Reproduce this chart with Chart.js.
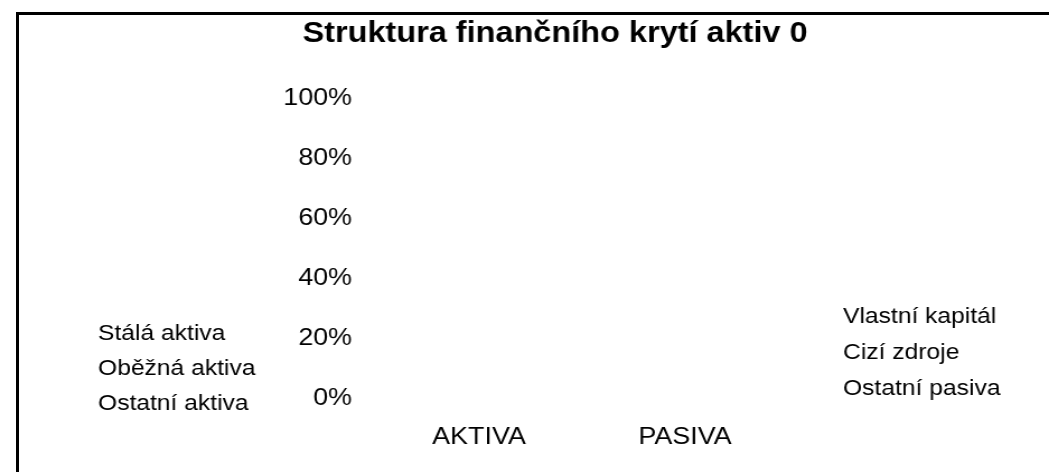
<!DOCTYPE html>
<html>
<head>
<meta charset="utf-8">
<script src="https://cdn.jsdelivr.net/npm/chart.js@4/dist/chart.umd.min.js"></script>
<style>
  html, body { margin: 0; padding: 0; background: #fff; }
  #wrap { position: relative; width: 1049px; height: 472px; overflow: hidden; }
  #frame {
    position: absolute; left: 16px; top: 12px; width: 1100px; height: 457px;
    border-top: 3px solid #000; border-left: 3px solid #000;
    border-bottom: 1px solid #ececec;
  }
  #chart { position: absolute; left: 0; top: 0; }
</style>
</head>
<body>
<div id="wrap">
  <div id="frame"></div>
  <!-- drawn narrower and widened by CSS to get the wide lettering -->
  <canvas id="chart" width="937" height="472" style="width:1049px;height:472px"></canvas>
</div>
<script>
const categories = ['AKTIVA', 'PASIVA'];

// aktiva sit on the first column, pasiva on the second (all empty here)
const aktivaLabels = ['Stálá aktiva', 'Oběžná aktiva', 'Ostatní aktiva'];
const aktivaValues = [0, 0, 0];
const pasivaLabels = ['Vlastní kapitál', 'Cizí zdroje', 'Ostatní pasiva'];
const pasivaValues = [0, 0, 0];

const yTicks = [0, 20, 40, 60, 80, 100];

const aktivaColors = ['#9999ff', '#993366', '#ffffcc'];
const pasivaColors = ['#ccffff', '#660066', '#ff8080'];

const datasets = [];
aktivaLabels.forEach((label, i) => {
    datasets.push({ label: label, group: 'left', data: [aktivaValues[i], null], backgroundColor: aktivaColors[i] });
});
pasivaLabels.forEach((label, i) => {
    datasets.push({ label: label, group: 'right', data: [null, pasivaValues[i]], backgroundColor: pasivaColors[i] });
});

const FONT = 'Liberation Sans, Arial, sans-serif';
const canvas = document.getElementById('chart');
const SX = 1049 / canvas.width;      // horizontal stretch of the canvas
const px = v => v / SX;              // page px -> canvas px

// plain text legends on both sides of the plot
const sideLegends = {
    id: 'sideLegends',
    afterLayout(chart) {
        // centre the title over the page rather than the padded box
        const t = chart.titleBlock;
        const shift = px(555) - (t.left + t.right) / 2;
        t.left += shift;
        t.right += shift;
    },
    afterDraw(chart) {
        const ctx = chart.ctx;
        const area = chart.chartArea;
        ctx.save();
        ctx.font = '22px ' + FONT;
        ctx.fillStyle = '#000';
        ctx.textAlign = 'left';
        ctx.textBaseline = 'middle';
        const left = chart.data.datasets.filter(d => d.group === 'left');
        const right = chart.data.datasets.filter(d => d.group === 'right');
        left.forEach((d, i) => {
            ctx.fillText(d.label, px(98), area.bottom - 64.5 + i * 35);
        });
        right.forEach((d, i) => {
            ctx.fillText(d.label, px(843), area.bottom - 81.5 + i * 36);
        });
        ctx.restore();
    }
};

new Chart(canvas, {
    type: 'bar',
    data: { labels: categories, datasets: datasets },
    options: {
        responsive: false,
        animation: false,
        layout: { padding: { left: 0, right: canvas.width - px(788), top: 0, bottom: 0 } },
        plugins: {
            legend: { display: false },
            tooltip: { enabled: false },
            title: {
                display: true,
                text: 'Struktura finančního krytí aktiv 0',
                color: '#000',
                font: { family: FONT, size: 29, weight: 'bold' },
                padding: { top: 17, bottom: 46.7 }
            }
        },
        scales: {
            x: {
                stacked: true,
                grid: { display: false, drawTicks: false },
                border: { display: false },
                ticks: { color: '#000', font: { family: FONT, size: 24 }, padding: 24 },
                afterFit(scale) { scale.height = 73.5; }
            },
            y: {
                stacked: true,
                min: 0,
                max: 100,
                afterBuildTicks(scale) { scale.ticks = yTicks.map(v => ({ value: v })); },
                grid: { display: false, drawTicks: false },
                border: { display: false },
                ticks: {
                    color: '#000',
                    font: { family: FONT, size: 24 },
                    padding: px(24),
                    callback: v => v + '%'
                },
                afterFit(scale) { scale.width = px(376); }
            }
        }
    },
    plugins: [sideLegends]
});
</script>
</body>
</html>
